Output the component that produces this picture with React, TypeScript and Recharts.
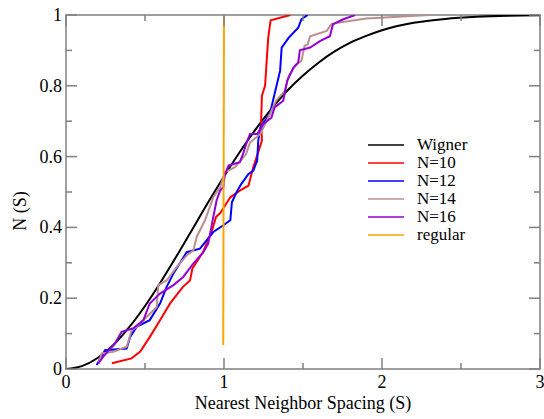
import React from 'react';
import { LineChart, Line, XAxis, YAxis, ReferenceArea } from 'recharts';

// tick values (minor ticks included, labels only on majors)
const xTicks = [0, 0.5, 1, 1.5, 2, 2.5, 3];
const yTicks = [0, 0.1, 0.2, 0.3, 0.4, 0.5, 0.6, 0.7, 0.8, 0.9, 1];

const wignerS = [0, 0.1, 0.2, 0.3, 0.4, 0.5, 0.6, 0.7, 0.8, 0.9, 1.0, 1.1, 1.2, 1.3, 1.4, 1.5, 1.6, 1.7, 1.8, 1.9, 2.0, 2.2, 2.4, 2.6, 2.8, 3.0];
const wignerN = [0, 0.008, 0.031, 0.068, 0.118, 0.178, 0.246, 0.319, 0.395, 0.471, 0.544, 0.613, 0.677, 0.735, 0.786, 0.829, 0.866, 0.897, 0.922, 0.941, 0.957, 0.978, 0.989, 0.995, 0.998, 0.999];

const n10S = [0.29, 0.415, 0.47, 0.53, 0.595, 0.66, 0.74, 0.785, 0.8, 0.867, 0.92, 0.95, 0.975, 1.0, 1.04, 1.1, 1.155, 1.185, 1.22, 1.24, 1.235, 1.24, 1.26, 1.27, 1.28, 1.295, 1.42];
const n10N = [0.016, 0.03, 0.049, 0.09, 0.138, 0.186, 0.232, 0.25, 0.284, 0.33, 0.385, 0.43, 0.44, 0.457, 0.485, 0.504, 0.518, 0.57, 0.617, 0.645, 0.7, 0.772, 0.8, 0.87, 0.936, 0.985, 1.0];

const n12S = [0.194, 0.247, 0.384, 0.405, 0.447, 0.53, 0.595, 0.637, 0.68, 0.764, 0.848, 0.932, 0.996, 1.04, 1.05, 1.08, 1.11, 1.155, 1.185, 1.21, 1.217, 1.23, 1.29, 1.32, 1.355, 1.365, 1.41, 1.47, 1.49, 1.53];
const n12N = [0.011, 0.053, 0.058, 0.09, 0.119, 0.138, 0.185, 0.232, 0.27, 0.33, 0.34, 0.387, 0.406, 0.42, 0.471, 0.5, 0.523, 0.551, 0.56, 0.589, 0.645, 0.683, 0.72, 0.777, 0.842, 0.908, 0.936, 0.964, 0.988, 1.0];

const n14S = [0.205, 0.226, 0.3, 0.384, 0.416, 0.447, 0.51, 0.574, 0.584, 0.637, 0.7, 0.764, 0.806, 0.827, 0.88, 0.932, 0.975, 1.006, 1.07, 1.14, 1.165, 1.23, 1.28, 1.31, 1.33, 1.386, 1.41, 1.43, 1.46, 1.49, 1.51, 1.53, 1.545, 1.65, 1.68, 1.73, 1.9, 2.3];
const n14N = [0.016, 0.044, 0.049, 0.063, 0.11, 0.119, 0.147, 0.175, 0.237, 0.25, 0.288, 0.321, 0.335, 0.373, 0.42, 0.485, 0.514, 0.556, 0.57, 0.607, 0.64, 0.664, 0.71, 0.739, 0.758, 0.786, 0.828, 0.842, 0.861, 0.87, 0.913, 0.917, 0.94, 0.955, 0.974, 0.979, 0.99, 1.0];

const n16S = [0.205, 0.236, 0.31, 0.352, 0.426, 0.49, 0.53, 0.595, 0.68, 0.742, 0.806, 0.869, 0.9, 0.932, 0.953, 0.975, 0.996, 1.006, 1.03, 1.1, 1.12, 1.144, 1.165, 1.21, 1.25, 1.3, 1.32, 1.375, 1.4, 1.42, 1.44, 1.47, 1.48, 1.545, 1.61, 1.67, 1.69, 1.755, 1.83];
const n16N = [0.016, 0.035, 0.072, 0.105, 0.115, 0.138, 0.185, 0.213, 0.237, 0.26, 0.298, 0.33, 0.354, 0.429, 0.476, 0.504, 0.514, 0.551, 0.575, 0.584, 0.607, 0.64, 0.664, 0.664, 0.692, 0.71, 0.739, 0.758, 0.815, 0.833, 0.852, 0.866, 0.9, 0.908, 0.927, 0.94, 0.974, 0.988, 1.0];

const regularS = [0.995, 1.0];
const regularN = [0.068, 1.0];

const zip = (s: number[], n: number[]) => s.map((v, i) => ({ s: v, n: n[i] }));

const series = [
  { name: 'Wigner', color: '#000000', data: zip(wignerS, wignerN), type: 'monotone' },
  { name: 'N=10', color: '#ff0000', data: zip(n10S, n10N), type: 'linear' },
  { name: 'N=12', color: '#0000ff', data: zip(n12S, n12N), type: 'linear' },
  { name: 'N=14', color: '#bc8f8f', data: zip(n14S, n14N), type: 'linear' },
  { name: 'N=16', color: '#9400d3', data: zip(n16S, n16N), type: 'linear' },
  { name: 'regular', color: '#ffa500', data: zip(regularS, regularN), type: 'linear' },
];

// plot box
const T = 15;
const B = 369;
const L = 66;
const R = 540;
const FONT = "'Liberation Serif', 'Times New Roman', Times, serif";
const AXIS = '#808080';
const txt = { fontFamily: FONT, fontSize: 18, fill: '#000' };

const XTick = (props: any) => {
  const { x, payload } = props;
  const v = payload.value;
  const major = Number.isInteger(v);
  const len = major ? 11 : 6;
  return (
    <g>
      <line x1={x} x2={x} y1={B} y2={B - len} stroke={AXIS} strokeWidth={1.5} />
      <line x1={x} x2={x} y1={T} y2={T + len} stroke={AXIS} strokeWidth={1.5} />
      {major && (
        <text x={x} y={388} textAnchor="middle" style={txt}>
          {v}
        </text>
      )}
    </g>
  );
};

const YTick = (props: any) => {
  const { y, payload } = props;
  const v = payload.value;
  const major = Math.round(v * 10) % 2 === 0;
  const len = major ? 11 : 6;
  const label = v === 0 ? '0' : v === 1 ? '1' : v.toFixed(1);
  return (
    <g>
      <line x1={L} x2={L + len} y1={y} y2={y} stroke={AXIS} strokeWidth={1.5} />
      <line x1={R} x2={R - len} y1={y} y2={y} stroke={AXIS} strokeWidth={1.5} />
      {major && (
        <text x={62} y={y + 6} textAnchor="end" style={txt}>
          {label}
        </text>
      )}
    </g>
  );
};

const XLabel = () => (
  <text x={303} y={409} textAnchor="middle" style={txt}>
    Nearest Neighbor Spacing (S)
  </text>
);

const YLabel = () => (
  <text x={26} y={211} transform="rotate(-90 26 211)" textAnchor="middle" style={txt}>
    N (S)
  </text>
);

const LegendBox = () => (
  <div style={{ position: 'absolute', left: 368, top: 136, fontFamily: FONT, fontSize: 17, color: '#000', lineHeight: '18px' }}>
    {series.map((s) => (
      <div key={s.name} style={{ display: 'flex', alignItems: 'center', height: 18 }}>
        <svg width={36} height={18} style={{ marginRight: 13 }}>
          <line x1={0} x2={36} y1={9} y2={9} stroke={s.color} strokeWidth={1.5} />
        </svg>
        <span>{s.name}</span>
      </div>
    ))}
  </div>
);

export default function App() {
  return (
    <div style={{ position: 'absolute', left: 0, top: 0, width: 544, height: 419, background: '#fff' }}>
      <LineChart width={544} height={419} margin={{ top: T, right: 544 - R, left: 6, bottom: 0 }}>
        <XAxis
          type="number"
          dataKey="s"
          domain={[0, 3]}
          ticks={xTicks}
          height={50}
          axisLine={false}
          tickLine={false}
          tick={<XTick />}
          allowDataOverflow
          label={<XLabel />}
        />
        <YAxis
          type="number"
          dataKey="n"
          domain={[0, 1]}
          ticks={yTicks}
          width={60}
          axisLine={false}
          tickLine={false}
          tick={<YTick />}
          allowDataOverflow
          label={<YLabel />}
        />
        <ReferenceArea x1={0} x2={3} y1={0} y2={1} fill="none" stroke={AXIS} strokeWidth={1.5} ifOverflow="visible" />
        {series.map((s) => (
          <Line
            key={s.name}
            data={s.data}
            dataKey="n"
            name={s.name}
            type={s.type as any}
            stroke={s.color}
            strokeWidth={2}
            dot={false}
            isAnimationActive={false}
          />
        ))}
      </LineChart>
      <LegendBox />
    </div>
  );
}
